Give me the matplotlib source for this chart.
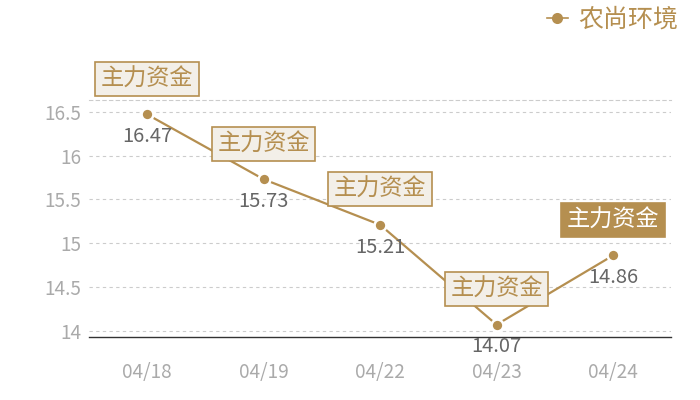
import matplotlib
matplotlib.use("Agg")
import matplotlib.pyplot as plt
from matplotlib.lines import Line2D

plt.rcParams['font.family'] = ['Noto Sans CJK SC', 'DejaVu Sans']

dates = ["04/18", "04/19", "04/22", "04/23", "04/24"]
values = [16.47, 15.73, 15.21, 14.07, 14.86]
series_name = "农尚环境"
tag = "主力资金"
yticks = [14, 14.5, 15, 15.5, 16, 16.5]

gold = "#b58f50"
boxbg = "#f3efe8"

fig = plt.figure(figsize=(7, 4), dpi=100)
ax = fig.add_axes([0.127, 0.1575, 0.832, 0.5925])

x = list(range(len(dates)))
ax.plot(x, values, color=gold, lw=1.6, marker="o", ms=8.5, mec="white", mew=1.8,
        mfc=gold, zorder=3)

ax.set_xlim(-0.5, len(dates) - 0.5)
ax.set_ylim(min(values) * 0.99, max(values) * 1.01)
ax.set_yticks(yticks)
ax.set_yticklabels([f"{v:g}" for v in yticks])
ax.set_xticks(x)
ax.set_xticklabels(dates)
ax.tick_params(axis="both", length=0, labelsize=13.7, labelcolor="#aaaaaa")
ax.tick_params(axis="x", pad=18)
ax.tick_params(axis="y", pad=5.5)
ax.grid(axis="y", color="#cccccc", ls=(0, (3, 3)), lw=0.8)
for s in ["left", "right"]:
    ax.spines[s].set_visible(False)
ax.spines["top"].set_color("#cccccc")
ax.spines["top"].set_linestyle((0, (3, 3)))
ax.spines["top"].set_linewidth(0.8)
ax.spines["bottom"].set_color("#333333")
ax.spines["bottom"].set_linewidth(1)

for i, v in enumerate(values):
    ax.annotate(f"{v:.2f}", (i, v), xytext=(0, -16), textcoords="offset points",
                ha="center", va="center", fontsize=14.5, color="#666666", zorder=4)
    last = i == len(values) - 1
    ax.annotate(tag, (i, v), xytext=(0, 25.5), textcoords="offset points",
                ha="center", va="center", fontsize=16.7,
                color="white" if last else gold, zorder=5,
                bbox=dict(boxstyle="square,pad=0.24", fc=gold if last else boxbg,
                          ec=gold, lw=1.2))

handle = Line2D([0], [0], color=gold, lw=1.2, marker="o", ms=8, mfc=gold, mec=gold, mew=0)
leg = fig.legend([handle], [series_name], loc="upper right", bbox_to_anchor=(0.99, 1.02),
                 frameon=False, fontsize=18, handlelength=0.85, handletextpad=0.4,
                 borderaxespad=0.2)
for t in leg.get_texts():
    t.set_color(gold)

fig.savefig("out.png", dpi=100)
